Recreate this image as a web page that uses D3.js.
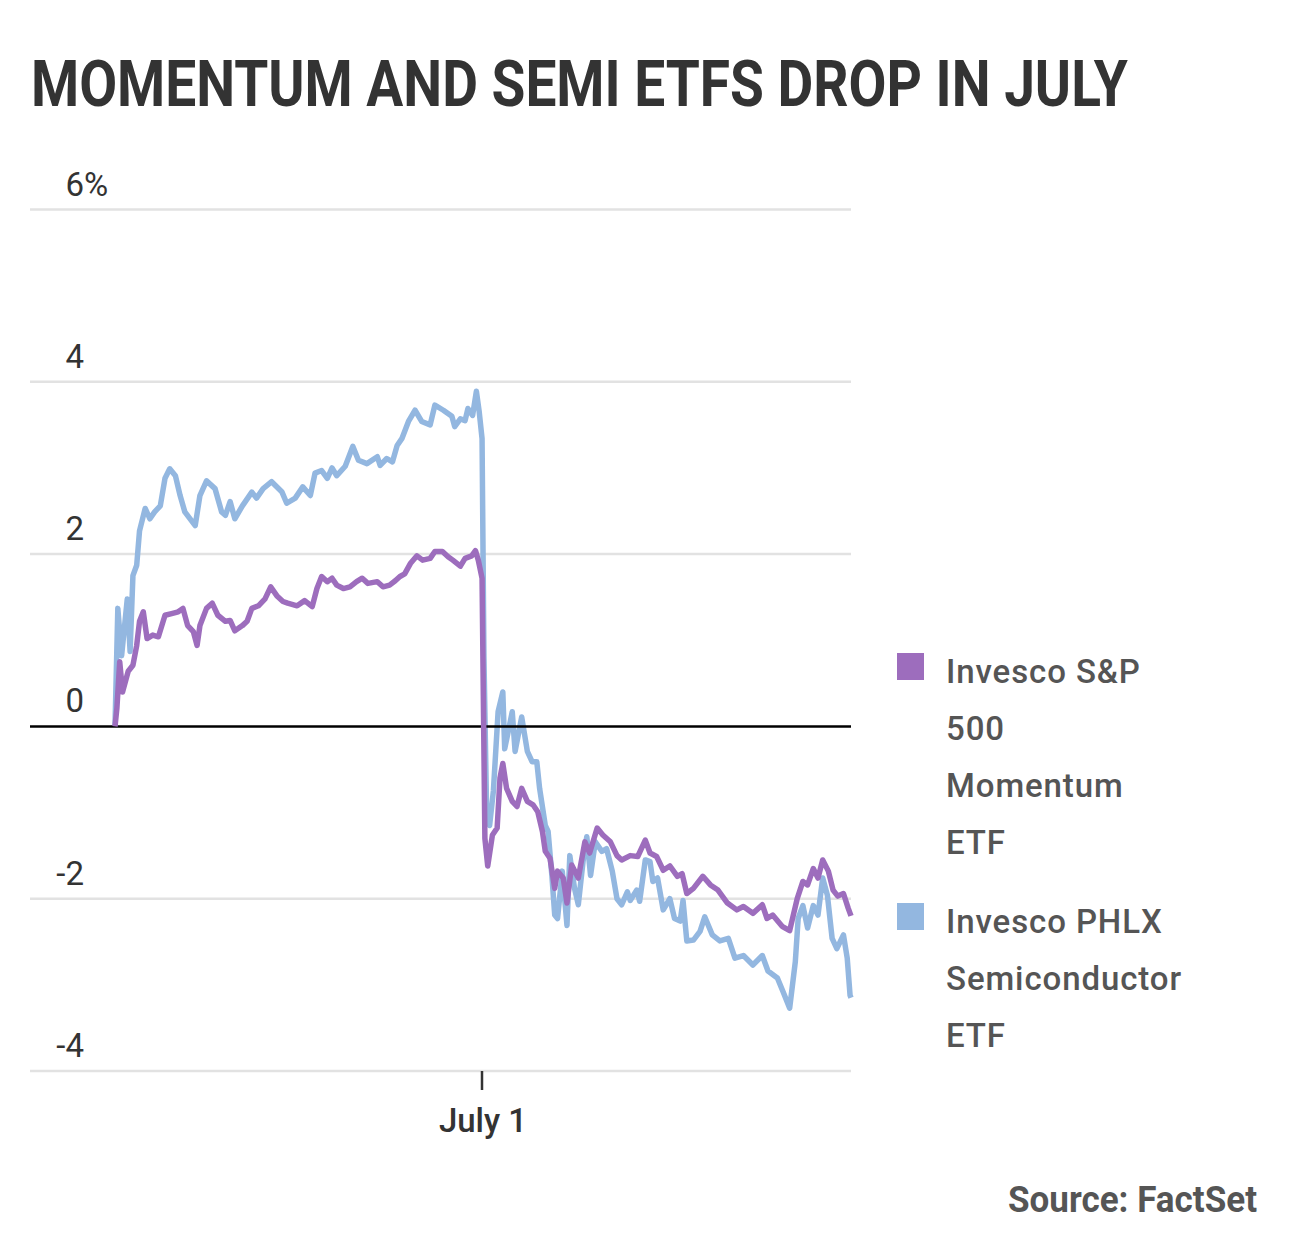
<!DOCTYPE html>
<html>
<head>
<meta charset="utf-8">
<script src="https://cdn.jsdelivr.net/npm/d3@7/dist/d3.min.js"></script>
<style>
  html, body { margin: 0; padding: 0; background: #fff; }
  svg { display: block; }
</style>
</head>
<body>
<svg id="chart" width="1290" height="1247"></svg>
<script>
// ---- Data (trading minutes since June 30 open; value = % change) ----
const titleText = "MOMENTUM AND SEMI ETFS DROP IN JULY";
const seriesNames = ["Invesco S&P 500 Momentum ETF", "Invesco PHLX Semiconductor ETF"];
const yTicks = [-4, -2, 0, 2, 4, 6];
const xTickMinutes = [390];
const xTickLabels = ["July 1"];
const sourceText = "Source: FactSet";

const momTime = [0,2,5,8,14,19,23,26,30,34,40,46,53,60,67,72,77,83,87,90,97,103,109,117,122,127,135,140,145,152,159,165,172,178,183,193,201,209,214,219,225,230,235,242,249,256,262,268,278,284,291,297,302,307,313,320,326,334,339,347,353,358,366,371,378,382,385,389,392,395,400,405,408,411,415,421,426,431,437,443,448,453,456,461,466,469,475,479,484,491,498,503,511,517,525,532,537,546,554,562,567,574,581,588,596,601,606,613,623,631,639,649,659,666,676,686,691,697,707,715,723,729,734,740,745,750,756,761,766,772,777,780];
const momValue = [0,0.21,0.75,0.40,0.64,0.71,0.94,1.22,1.33,1.02,1.06,1.04,1.29,1.31,1.33,1.37,1.17,1.10,0.94,1.17,1.37,1.43,1.29,1.22,1.23,1.11,1.17,1.22,1.37,1.40,1.48,1.62,1.51,1.45,1.43,1.40,1.46,1.39,1.60,1.74,1.68,1.72,1.64,1.60,1.62,1.68,1.72,1.66,1.68,1.62,1.64,1.69,1.74,1.77,1.89,1.98,1.93,1.95,2.03,2.03,1.97,1.93,1.86,1.95,1.98,2.04,1.93,1.72,-1.30,-1.62,-1.26,-1.18,-0.60,-0.43,-0.72,-0.87,-0.93,-0.72,-0.87,-0.91,-0.99,-1.22,-1.45,-1.53,-1.88,-1.68,-1.76,-2.05,-1.61,-1.76,-1.34,-1.47,-1.18,-1.26,-1.34,-1.50,-1.55,-1.50,-1.51,-1.32,-1.47,-1.51,-1.67,-1.62,-1.74,-1.71,-1.94,-1.88,-1.74,-1.84,-1.90,-2.05,-2.13,-2.09,-2.17,-2.07,-2.23,-2.19,-2.32,-2.37,-2.00,-1.80,-1.84,-1.65,-1.76,-1.55,-1.68,-1.90,-1.97,-1.94,-2.11,-2.20];

const semiTime = [0,3,7,13,16,19,23,26,32,37,42,48,53,58,64,69,74,85,90,97,106,113,117,122,127,135,145,150,157,166,177,182,191,199,207,212,219,225,230,235,244,252,258,267,278,281,288,294,299,304,311,318,325,334,339,348,357,360,366,371,374,379,383,386,389,391,394,397,401,406,411,413,421,424,431,437,442,447,450,456,459,463,466,469,474,479,482,487,491,496,500,504,509,516,521,527,532,537,543,546,553,556,562,567,570,575,581,588,593,599,602,606,613,620,625,633,641,650,657,666,676,686,692,702,708,715,721,724,729,734,740,745,750,755,760,765,772,776,779,780];
const semiValue = [0,1.37,0.82,1.48,0.87,1.75,1.87,2.27,2.53,2.41,2.49,2.56,2.88,2.99,2.91,2.68,2.49,2.33,2.68,2.85,2.76,2.49,2.45,2.61,2.41,2.56,2.72,2.65,2.76,2.84,2.72,2.59,2.65,2.78,2.68,2.94,2.97,2.88,3.00,2.91,3.02,3.25,3.09,3.05,3.13,3.03,3.11,3.07,3.26,3.34,3.54,3.67,3.54,3.50,3.73,3.67,3.60,3.48,3.57,3.55,3.69,3.61,3.89,3.65,3.34,0.80,-1.10,-1.15,-0.75,0.17,0.40,-0.26,0.17,-0.29,0.11,-0.29,-0.41,-0.41,-0.72,-1.15,-1.22,-1.73,-2.19,-2.23,-1.68,-2.31,-1.50,-1.88,-2.07,-1.57,-1.28,-1.73,-1.34,-1.45,-1.42,-1.68,-2.00,-2.07,-1.92,-2.02,-1.90,-2.03,-1.55,-1.57,-1.80,-1.76,-2.13,-2.00,-2.23,-2.26,-2.02,-2.49,-2.48,-2.38,-2.21,-2.42,-2.49,-2.46,-2.69,-2.66,-2.77,-2.66,-2.84,-2.92,-3.08,-3.27,-2.73,-2.23,-2.08,-2.34,-2.08,-2.19,-1.76,-1.96,-2.46,-2.58,-2.42,-2.69,-3.12,-3.15];

const colors = ["#9d6dbd", "#93b7e0"];

// ---- Drawing ----
const svg = d3.select("#chart");
const plotLeft = 30, plotRight = 851;
const FONT = "Roboto, 'Liberation Sans', sans-serif";

// title, horizontally condensed to the reference width
const title = svg.append("text")
  .attr("x", 0).attr("y", 0)
  .attr("font-family", FONT)
  .attr("font-weight", 700)
  .attr("font-size", 65)
  .attr("fill", "#333")
  .text(titleText);
const tw = title.node().getComputedTextLength();
title.attr("transform", `translate(31,106) scale(${1097 / tw},1)`);

const x = d3.scaleLinear().domain([0, 780]).range([115, 851]);
const y = d3.scaleLinear().domain([-4, 6]).range([1071, 209.5]);

// gridlines
const grid = svg.append("g");
grid.selectAll("line").data(yTicks.filter(d => d !== 0)).join("line")
  .attr("x1", plotLeft).attr("x2", plotRight)
  .attr("y1", d => y(d)).attr("y2", d => y(d))
  .attr("stroke", "#e2e2e2").attr("stroke-width", 2.5);

// y labels
const yl = svg.append("g")
  .attr("font-family", FONT)
  .attr("font-size", 33).attr("fill", "#333");
yl.selectAll("text.num").data(yTicks).join("text")
  .attr("class", "num")
  .attr("x", 84).attr("y", d => y(d) - 14)
  .attr("text-anchor", "end")
  .text(d => String(d));
yl.append("text").attr("x", 84).attr("y", y(6) - 14).text("%");

// x axis tick
svg.selectAll("line.xt").data(xTickMinutes).join("line")
  .attr("class", "xt")
  .attr("x1", d => x(d) - 1).attr("x2", d => x(d) - 1)
  .attr("y1", y(-4)).attr("y2", y(-4) + 19)
  .attr("stroke", "#333").attr("stroke-width", 2.5);
svg.selectAll("text.xl").data(xTickMinutes).join("text")
  .attr("class", "xl")
  .attr("x", d => x(d)).attr("y", 1132)
  .attr("text-anchor", "middle")
  .attr("font-family", FONT)
  .attr("font-weight", 500)
  .attr("font-size", 33).attr("fill", "#333")
  .text((d, i) => xTickLabels[i]);

// lines
const line = d3.line().x(d => x(d[0])).y(d => y(d[1])).curve(d3.curveLinear);
const semiData = semiTime.map((t, i) => [t, semiValue[i]]);
const momData = momTime.map((t, i) => [t, momValue[i]]);

svg.append("path").datum(semiData)
  .attr("d", line).attr("fill", "none")
  .attr("stroke", colors[1]).attr("stroke-width", 5.5)
  .attr("stroke-linejoin", "round");

// zero line
svg.append("line")
  .attr("x1", plotLeft).attr("x2", plotRight)
  .attr("y1", y(0)).attr("y2", y(0))
  .attr("stroke", "#000").attr("stroke-width", 2.5);

svg.append("path").datum(momData)
  .attr("d", line).attr("fill", "none")
  .attr("stroke", colors[0]).attr("stroke-width", 5.5)
  .attr("stroke-linejoin", "round");

// legend
const legendLines = [["Invesco S&P", "500", "Momentum", "ETF"], ["Invesco PHLX", "Semiconductor", "ETF"]];
const legendTop = [653, 903];
const lg = svg.append("g");
legendLines.forEach((lines, i) => {
  lg.append("rect").attr("x", 897).attr("y", legendTop[i])
    .attr("width", 27).attr("height", 27).attr("fill", colors[i]);
  lines.forEach((s, j) => {
    lg.append("text")
      .attr("x", 946).attr("y", legendTop[i] + 30 + j * 57)
      .attr("font-family", FONT)
      .attr("font-weight", 500)
      .attr("font-size", 33)
      .attr("letter-spacing", 0.9)
      .attr("fill", "#555")
      .text(s);
  });
});

// source
svg.append("text")
  .attr("x", 1257).attr("y", 1212)
  .attr("text-anchor", "end")
  .attr("font-family", FONT)
  .attr("font-weight", 700)
  .attr("font-size", 36)
  .attr("fill", "#555")
  .attr("textLength", 249)
  .attr("lengthAdjust", "spacingAndGlyphs")
  .text(sourceText);
</script>
</body>
</html>
